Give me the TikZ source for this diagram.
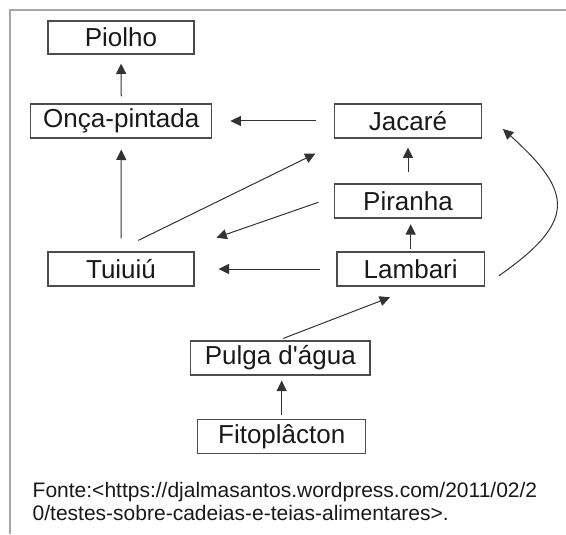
\documentclass[tikz,border=0pt]{standalone}
\usepackage{fontspec}
\setmainfont{Liberation Sans}
\usepackage{tikz}
\usetikzlibrary{arrows.meta}
\tikzset{>={Triangle[width=5pt,length=5.2pt]}}
\tikzset{
  specie/.style={draw=black!70, line width=0.6pt, minimum height=17pt, inner sep=0pt,
    text=black!90, font=\fontsize{13}{15}\selectfont},
  feeds/.style={->, draw=black!80, line width=0.5pt},
  source/.style={anchor=base west, inner sep=0pt, text=black!90, font=\fontsize{10.5}{12}\selectfont},
}

\begin{document}
\begin{tikzpicture}[x=0.5pt,y=0.5pt]

  \useasboundingbox (0,0) rectangle (566,-534);
  \draw[black!35, line width=1pt] (10,-534) -- (10,-10) -- (566,-10);

  % species
  \node[specie, minimum width=73pt, minimum height=16.5pt] (piolho) at (121,-37.5) {Piolho};
  \node[specie, minimum width=90.5pt] (onca)    at (121.3,-121) {Onça-pintada};
  \node[specie, minimum width=73.7pt] (jacare)  at (408,-121)   {Jacaré};
  \node[specie, minimum width=73.7pt] (piranha) at (408,-201)   {Piranha};
  \node[specie, minimum width=73pt]   (tuiuiu)  at (121,-269)   {Tuiuiú};
  \node[specie, minimum width=73.7pt] (lambari) at (410.7,-269) {Lambari};
  \node[specie, minimum width=89.7pt] (pulga)   at (280.3,-358) {Pulga d\textquotesingle água};
  \node[specie, minimum width=84pt]   (fito)    at (281.7,-436.3) {Fitoplâcton};

  \draw[feeds, shorten <=3.5pt, shorten >=4.5pt] (onca.north) -- (piolho.south); %% onca->piolho
  \draw[feeds, shorten <=9pt, shorten >=9pt] (jacare.west) -- (onca.east); %% jacare->onca
  \draw[feeds, shorten <=6.5pt, shorten >=5.5pt] (tuiuiu.north) -- (onca.south); %% tuiuiu->onca
  \draw[feeds] ([xshift=8.65pt,yshift=5.5pt]tuiuiu.north) -- ([xshift=-9.15pt,yshift=-7.5pt]jacare.south west); %% tuiuiu->jacare
  \draw[feeds] ([xshift=-7.65pt,yshift=-0.65pt]piranha.west) -- ([xshift=10.9pt,yshift=6.85pt]tuiuiu.north east); %% piranha->tuiuiu
  \draw[feeds, shorten <=5.5pt, shorten >=4.5pt] (piranha.north) -- (jacare.south); %% piranha->jacare
  \draw[feeds, shorten <=1pt, shorten >=2.8pt] (lambari.north) -- (lambari.north |- piranha.south); %% lambari->piranha
  \draw[feeds, shorten <=8pt, shorten >=12pt] (lambari.west) -- (tuiuiu.east); %% lambari->tuiuiu
  \draw[feeds] ([xshift=7pt,yshift=-3.35pt]lambari.east) to[out=35, in=-42, looseness=1.65] ([xshift=10.3pt,yshift=-4pt]jacare.east); %% lambari->jacare
  \draw[feeds] ([xshift=1.5pt,yshift=1pt]pulga.north) -- ([xshift=-10.35pt,yshift=-5.35pt]lambari.south); %% pulga->lambari
  \draw[feeds, shorten <=2pt, shorten >=2.5pt] (fito.north) -- (fito.north |- pulga.south); %% fito->pulga

  % source
  \node[source] (fonte1) at (32.3,-497.3) {Fonte:<https://djalmasantos.wordpress.com/2011/02/2};
  \node[source] (fonte2) at (32.3,-520) {0/testes-sobre-cadeias-e-teias-alimentares>.};

\end{tikzpicture}
\end{document}
